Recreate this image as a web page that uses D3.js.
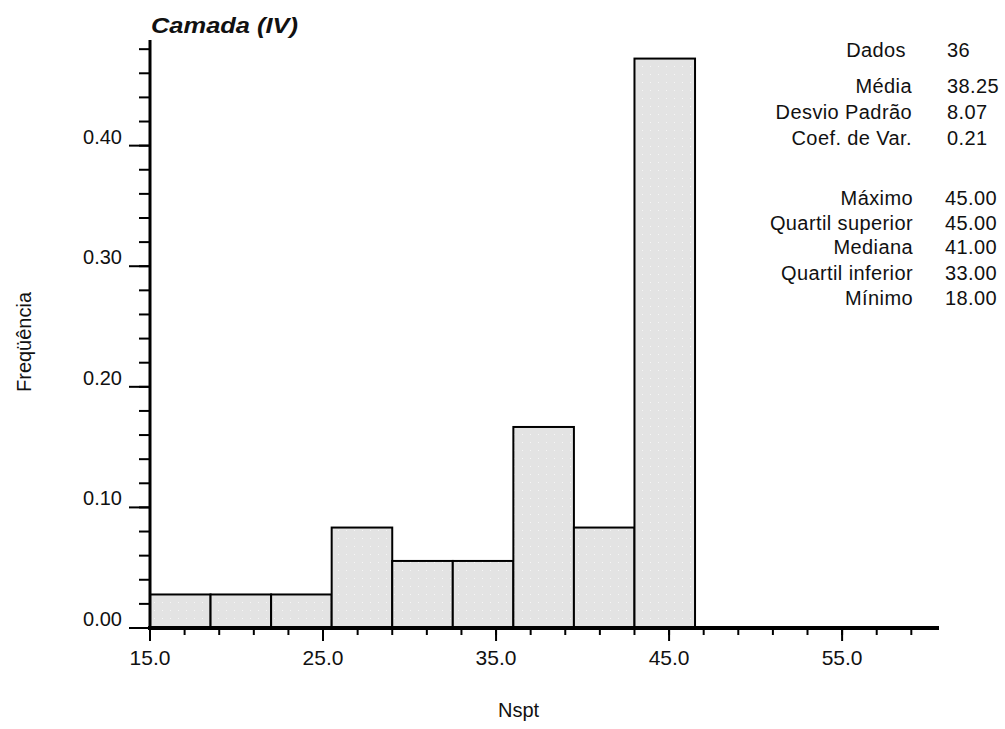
<!DOCTYPE html>
<html><head><meta charset="utf-8">
<script src="https://cdn.jsdelivr.net/npm/d3@7"></script>
<style>
html,body{margin:0;padding:0;background:#fff;}
svg{display:block;}
text{font-family:"Liberation Sans",Arial,sans-serif;fill:#111;}
</style></head>
<body>
<svg id="chart" width="1005" height="729"></svg>
<script>
// ---- data ----
const binEdges = [15, 18.5, 22, 25.5, 29, 32.5, 36, 39.5, 43, 46.5];
const frequencies = [0.0278, 0.0278, 0.0278, 0.0833, 0.0556, 0.0556, 0.1667, 0.0833, 0.4722];
const xMajorTicks = [15, 25, 35, 45, 55];
const xTickLabels = ["15.0", "25.0", "35.0", "45.0", "55.0"];
const yMajorTicks = [0, 0.1, 0.2, 0.3, 0.4];
const yTickLabels = ["0.00", "0.10", "0.20", "0.30", "0.40"];
const statLabels1 = ["Dados", "Média", "Desvio Padrão", "Coef. de Var."];
const statValues1 = ["36", "38.25", "8.07", "0.21"];
const statLabels2 = ["Máximo", "Quartil superior", "Mediana", "Quartil inferior", "Mínimo"];
const statValues2 = ["45.00", "45.00", "41.00", "33.00", "18.00"];
const titleText = "Camada (IV)";
const xLabel = "Nspt";
const yLabel = "Freqüência";

// ---- layout ----
const svg = d3.select("#chart");
const x = d3.scaleLinear().domain([15, 60.6]).range([150, 939]);
const y = d3.scaleLinear().domain([0, 0.4876]).range([628, 40]);

// pattern for bar fill
const defs = svg.append("defs");
const pat = defs.append("pattern").attr("id", "dots").attr("patternUnits", "userSpaceOnUse")
  .attr("width", 8).attr("height", 8);
pat.append("rect").attr("width", 8).attr("height", 8).attr("fill", "#e3e3e3");
pat.append("rect").attr("x", 2).attr("y", 2).attr("width", 1).attr("height", 1).attr("fill", "#f6f6f6");

const bars = frequencies.map((f, i) => ({x0: binEdges[i], x1: binEdges[i + 1], f}));
svg.append("g").selectAll("rect").data(bars).join("rect")
  .attr("x", d => x(d.x0))
  .attr("y", d => y(d.f))
  .attr("width", d => x(d.x1) - x(d.x0))
  .attr("height", d => y(0) - y(d.f))
  .attr("fill", "url(#dots)")
  .attr("stroke", "#000")
  .attr("stroke-width", 2);

// x axis
const xMinor = d3.range(15, 60, 2);
const gx = svg.append("g");
gx.selectAll("line.minor").data(xMinor).join("line")
  .attr("x1", d => x(d)).attr("x2", d => x(d))
  .attr("y1", y(0)).attr("y2", y(0) + 7)
  .attr("stroke", "#000").attr("stroke-width", 2);
gx.selectAll("line.major").data(xMajorTicks).join("line")
  .attr("x1", d => x(d)).attr("x2", d => x(d))
  .attr("y1", y(0)).attr("y2", y(0) + 13)
  .attr("stroke", "#000").attr("stroke-width", 2);
gx.selectAll("text").data(xMajorTicks).join("text")
  .attr("x", d => x(d)).attr("y", 665)
  .attr("text-anchor", "middle").attr("font-size", 21)
  .text((d, i) => xTickLabels[i]);
gx.append("line").attr("x1", x(15) - 2).attr("x2", x.range()[1])
  .attr("y1", y(0)).attr("y2", y(0)).attr("stroke", "#000").attr("stroke-width", 4);

// y axis
const yMinor = d3.range(0, 0.4801, 0.02);
const gy = svg.append("g");
gy.selectAll("line.minor").data(yMinor).join("line")
  .attr("x1", x(15) - 11).attr("x2", x(15))
  .attr("y1", d => y(d)).attr("y2", d => y(d))
  .attr("stroke", "#000").attr("stroke-width", 2);
gy.selectAll("line.major").data(yMajorTicks).join("line")
  .attr("x1", x(15) - 21).attr("x2", x(15))
  .attr("y1", d => y(d)).attr("y2", d => y(d))
  .attr("stroke", "#000").attr("stroke-width", 2);
gy.selectAll("text").data(yMajorTicks).join("text")
  .attr("x", 122).attr("y", d => y(d) - 2)
  .attr("text-anchor", "end").attr("font-size", 20)
  .text((d, i) => yTickLabels[i]);
gy.append("line").attr("x1", x(15)).attr("x2", x(15))
  .attr("y1", y.range()[1]).attr("y2", y(0) + 2)
  .attr("stroke", "#000").attr("stroke-width", 3);

// title
svg.append("text").attr("x", 151).attr("y", 33)
  .attr("font-weight", "bold").attr("font-style", "italic").attr("font-size", 22)
  .attr("fill", "#000")
  .attr("textLength", 147).attr("lengthAdjust", "spacingAndGlyphs")
  .text(titleText);

// axis labels
svg.append("text").attr("x", 498).attr("y", 717)
  .attr("font-size", 20).text(xLabel);
svg.append("text").attr("transform", "translate(31,392) rotate(-90)")
  .attr("font-size", 20).text(yLabel);

// stats
const sg = svg.append("g").attr("font-size", 20).attr("letter-spacing", 0.4);
const ys1 = [57, 93, 119, 145];
const ys2 = [205, 230, 254, 280, 305];
sg.selectAll("text.l1").data(statLabels1).join("text").attr("class", "l1")
  .attr("x", (d, i) => i === 0 ? 906 : 912).attr("y", (d, i) => ys1[i]).attr("text-anchor", "end").text(d => d);
sg.selectAll("text.v1").data(statValues1).join("text").attr("class", "v1")
  .attr("x", 947).attr("y", (d, i) => ys1[i]).text(d => d);
sg.selectAll("text.l2").data(statLabels2).join("text").attr("class", "l2")
  .attr("x", 913).attr("y", (d, i) => ys2[i]).attr("text-anchor", "end").text(d => d);
sg.selectAll("text.v2").data(statValues2).join("text").attr("class", "v2")
  .attr("x", 945).attr("y", (d, i) => ys2[i]).text(d => d);
</script>
</body></html>
